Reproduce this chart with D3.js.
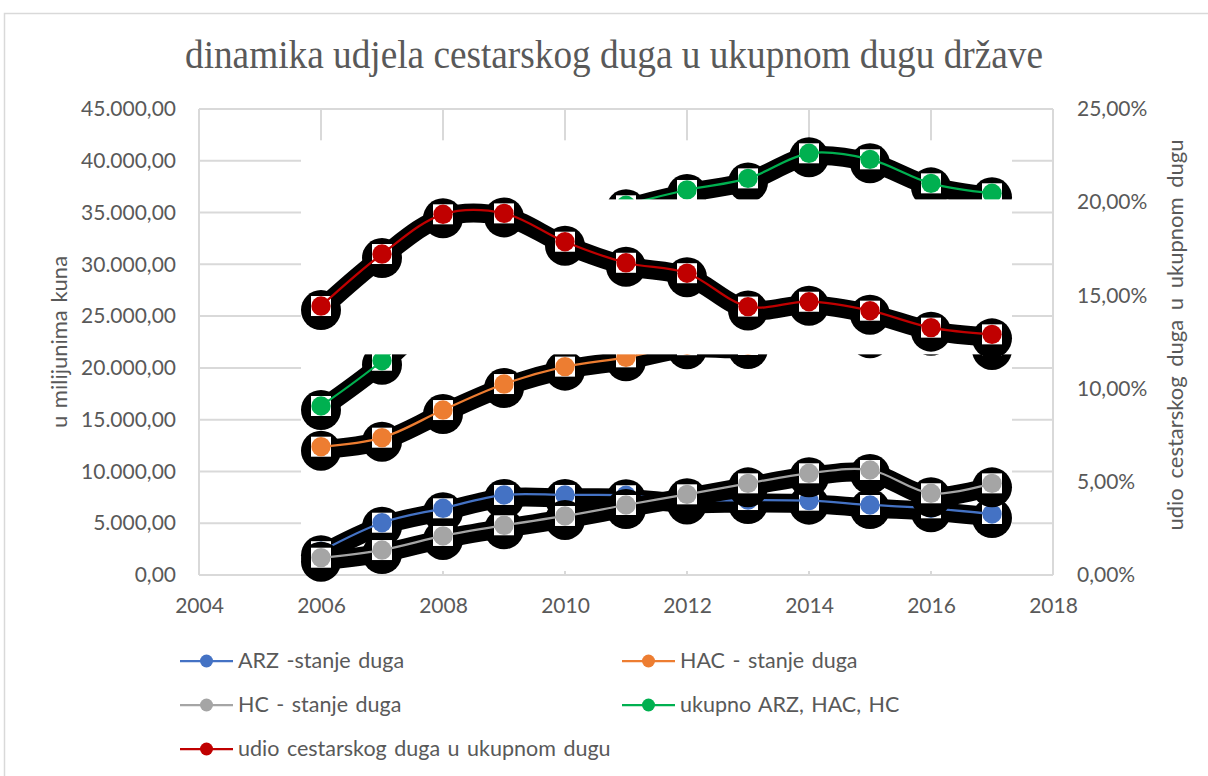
<!DOCTYPE html>
<html><head><meta charset="utf-8">
<script src="https://cdn.jsdelivr.net/npm/d3@7"></script>
<style>html,body{margin:0;padding:0;background:#fff;}svg{display:block;}</style>
</head><body>
<svg id="c" width="1208" height="776"></svg>
<script>
const years = [2006,2007,2008,2009,2010,2011,2012,2013,2014,2015,2016,2017];
const arz = [2300,5050,6440,7730,7730,7700,7200,7240,7180,6760,6440,5890];
const hac = [12390,13260,15930,18440,20120,21020,22190,22210,23720,23240,23490,22120];
const hc = [1670,2410,3770,4800,5700,6760,7790,8850,9820,10140,7890,8850];
const ukupno = [16320,20690,26140,30970,33550,35700,37180,38300,40720,40140,37820,36860];
const udio = [14.43,17.22,19.35,19.40,17.88,16.75,16.19,14.40,14.66,14.18,13.27,12.91];
const seriesNames = ["ARZ -stanje duga","HAC - stanje duga","HC - stanje duga","ukupno ARZ, HAC, HC","udio cestarskog duga u ukupnom dugu"];
const seriesColors = ["#4472C4","#ED7D31","#A5A5A5","#00B050","#C00000"];
const xTicks = [2004,2006,2008,2010,2012,2014,2016,2018];
const yTicks = [0,5000,10000,15000,20000,25000,30000,35000,40000,45000];
const y2Ticks = [0,5,10,15,20,25];
const titleText = "dinamika udjela cestarskog duga u ukupnom dugu države";
const yTitle = "u milijunima kuna";
const y2Title = "udio cestarskog duga u ukupnom dugu";

const svg = d3.select("#c");
const L = 199, R = 1053, T = 109, B = 575;
const x = d3.scaleLinear().domain([2004,2018]).range([L,R]);
const y = d3.scaleLinear().domain([0,45000]).range([B,T]);
const y2 = d3.scaleLinear().domain([0,25]).range([B,T]);
const grid = "#d9d9d9", txt = "#595959";
const font = "Lato, 'Open Sans', sans-serif";

// chart border
svg.append("rect").attr("x",4.5).attr("y",13.5).attr("width",1220).attr("height",800)
  .attr("fill","none").attr("stroke",grid).attr("stroke-width",1.5);

// title
svg.append("text").attr("x",614).attr("y",68).attr("text-anchor","middle")
  .attr("font-family","'Liberation Serif','Times New Roman',serif").attr("font-size",40)
  .attr("fill",txt).attr("textLength",858).attr("lengthAdjust","spacingAndGlyphs").text(titleText);

// gridlines
const g = svg.append("g");
g.selectAll("line.h").data(yTicks).join("line")
  .attr("x1",L).attr("x2",R).attr("y1",d=>y(d)).attr("y2",d=>y(d))
  .attr("stroke",grid).attr("stroke-width",2);
g.selectAll("line.v").data(xTicks).join("line")
  .attr("x1",d=>x(d)).attr("x2",d=>x(d)).attr("y1",T).attr("y2",B)
  .attr("stroke",grid).attr("stroke-width",2);

// axes labels
const fmtL = v => d3.format(",.2f")(v).replace(/,/g,"#").replace(/\./g,",").replace(/#/g,".");
const fmtR = v => d3.format(".2f")(v).replace(".",",") + "%";
const axL = d3.axisLeft(y).tickValues(yTicks).tickFormat(fmtL).tickSize(0).tickPadding(23);
const axR = d3.axisRight(y2).tickValues(y2Ticks).tickFormat(fmtR).tickSize(0).tickPadding(24);
const axB = d3.axisBottom(x).tickValues(d3.range(2004,2019,2)).tickFormat(d3.format("d")).tickSize(0).tickPadding(23);
function styleAxis(sel){ sel.select(".domain").remove(); sel.selectAll("text").attr("font-family",font).attr("font-size",21).attr("fill",txt); }
svg.append("g").attr("transform",`translate(${L},0)`).call(axL).call(styleAxis);
svg.append("g").attr("transform",`translate(${R},0)`).call(axR).call(styleAxis);
svg.append("g").attr("transform",`translate(0,${B})`).call(axB).call(styleAxis);

svg.append("text").attr("transform","translate(67,342) rotate(-90)").attr("text-anchor","middle")
  .attr("font-family",font).attr("font-size",22).attr("word-spacing",2).attr("fill",txt).text(yTitle);
svg.append("text").attr("transform","translate(1183,335) rotate(-90)").attr("text-anchor","middle")
  .attr("font-family",font).attr("font-size",22).attr("word-spacing",4).attr("fill",txt).text(y2Title);

// series
const series = [
  {v:arz, s:y}, {v:hac, s:y}, {v:hc, s:y}, {v:ukupno, s:y}, {v:udio, s:y2}
].map((d,i)=>({...d, name:seriesNames[i], color:seriesColors[i],
  pts: years.map((yr,j)=>[x(yr), d.s(d.v[j])])}));

const SH = 4, SR = 20, MR = 9.7, SQ = 20;
// white area behind all series (rendering artifact in the original)
const allPts = series.flatMap(s=>s.pts);
const minX = d3.min(allPts,p=>p[0]) - SR, maxX = d3.max(allPts,p=>p[0]) + SR;
const minY = d3.min(allPts,p=>p[1]) + SH - SR + 3;
svg.append("rect").attr("x",minX).attr("y",minY).attr("width",maxX-minX).attr("height",B-4-minY).attr("fill","#fff");

const smooth = d3.line().curve(d3.curveCatmullRom.alpha(0.5));
series.forEach((s,i)=>{
  const gs = svg.append("g");
  if (i === series.length-1) {
    const y0 = d3.min(s.pts,p=>p[1]) + SH - SR + 2, y1 = d3.max(s.pts,p=>p[1]) + SH + SR - 4;
    gs.append("rect").attr("x",minX).attr("y",y0).attr("width",maxX-minX).attr("height",y1-y0).attr("fill","#fff");
  }
  gs.append("path").attr("d",smooth(s.pts.map(p=>[p[0],p[1]+SH-1]))).attr("fill","none")
    .attr("stroke","#000").attr("stroke-width",19);
  gs.selectAll("circle.sh").data(s.pts).join("circle").attr("cx",p=>p[0]).attr("cy",p=>p[1]+SH).attr("r",SR).attr("fill","#000");
  gs.selectAll("rect.sq").data(s.pts).join("rect").attr("x",p=>p[0]-SQ/2).attr("y",p=>p[1]-SQ/2)
    .attr("width",SQ).attr("height",SQ).attr("fill","#fff");
  gs.append("path").attr("d",smooth(s.pts)).attr("fill","none").attr("stroke",s.color).attr("stroke-width",2.25);
  gs.selectAll("circle.m").data(s.pts).join("circle").attr("cx",p=>p[0]).attr("cy",p=>p[1]).attr("r",MR).attr("fill",s.color);
});

// legend
const legPos = [[180,661],[622,661],[180,705],[622,705],[180,749]];
series.forEach((s,i)=>{
  const [lx,ly] = legPos[i];
  const lg = svg.append("g");
  lg.append("line").attr("x1",lx).attr("x2",lx+53).attr("y1",ly).attr("y2",ly).attr("stroke",s.color).attr("stroke-width",2.25);
  lg.append("circle").attr("cx",lx+26.5).attr("cy",ly).attr("r",6.5).attr("fill",s.color);
  lg.append("text").attr("x",lx+58).attr("y",ly+7).attr("font-family",font).attr("font-size",21.5)
    .attr("word-spacing",2).attr("fill",txt).text(s.name);
});
</script>
</body></html>
